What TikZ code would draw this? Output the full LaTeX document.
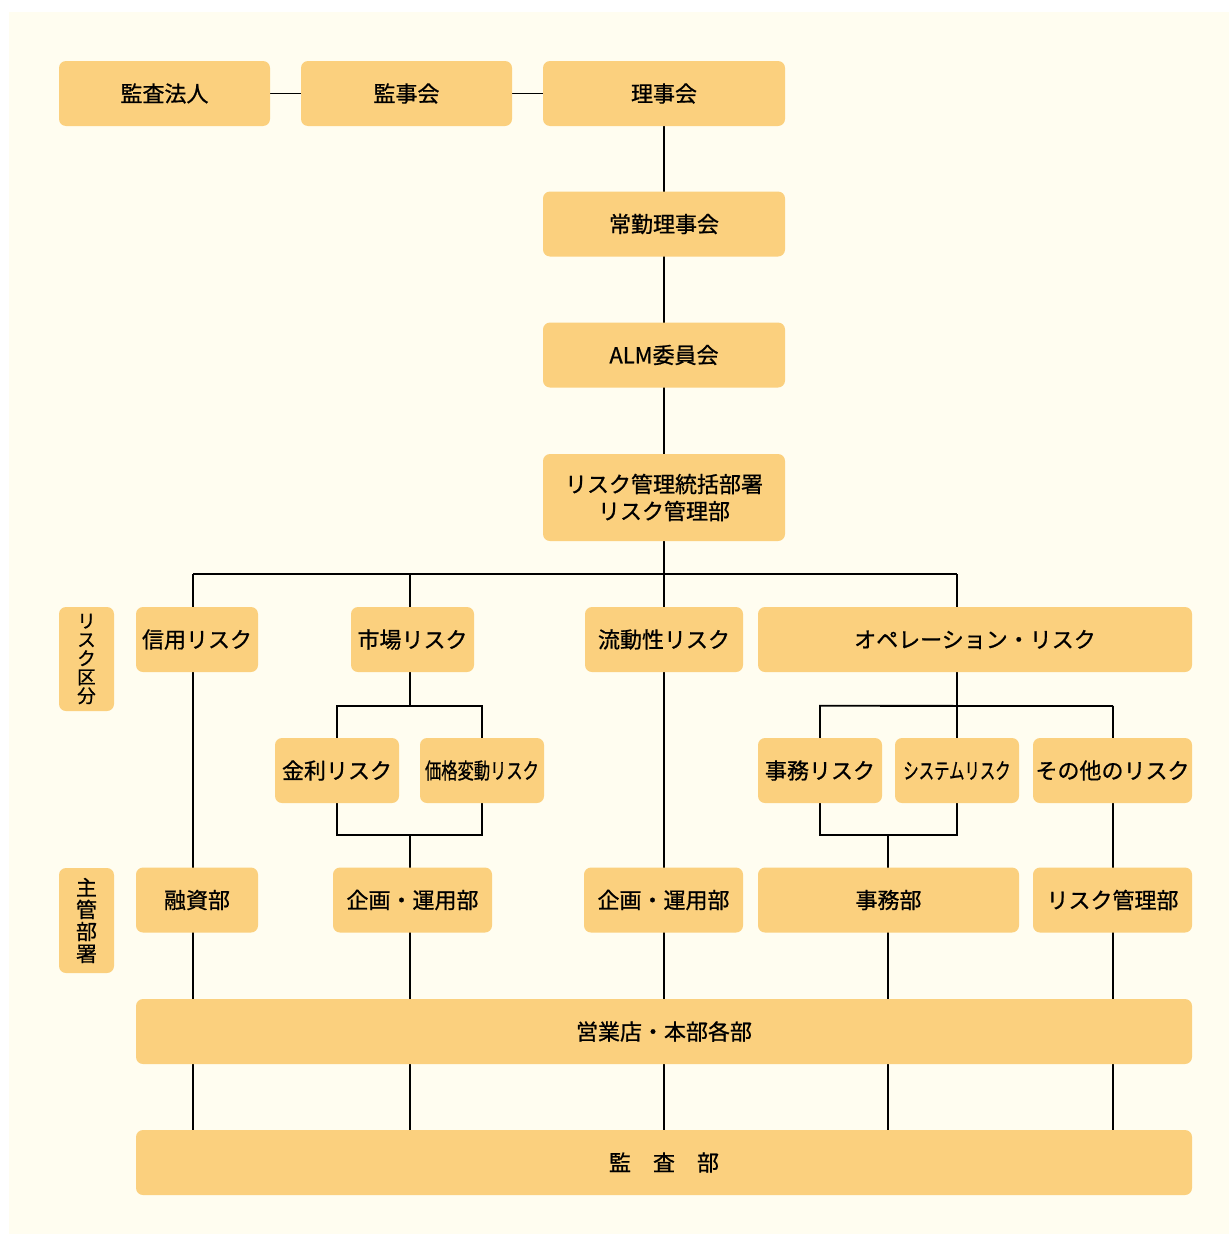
\documentclass[tikz,border=0pt]{standalone}
\usepackage{fontspec}
\setmainfont{Noto Sans CJK JP}[FakeBold=0.8, AutoFakeBold=0.8]
\usepackage{graphicx}
\usetikzlibrary{positioning, backgrounds}
\definecolor{boxfill}{HTML}{FBD07E}
\definecolor{paper}{HTML}{FFFDF0}

\begin{document}
\begin{tikzpicture}[
            x=1pt, y=-1pt,
            box/.style={fill=boxfill, rounded corners=7pt, inner sep=0pt, align=center,
              font=\fontsize{22}{27}\selectfont\bfseries, minimum height=65pt},
            side/.style={box, minimum width=55pt, font=\fontsize{21}{22}\selectfont\bfseries},
            link/.style={line width=1.8pt}
          ]
        \useasboundingbox (0,0) rectangle (1229,1234);

        \node[box, minimum width=211pt] (kansahoujin) at (164.5,93.5) {監査法人};
        \node[box, minimum width=211pt] (kanjikai) at (406.5,93.5) {監事会};
        \node[box, minimum width=242pt] (rijikai) at (664,93.5) {理事会};
        \node[box, minimum width=242pt] (joukin) at (664,224) {常勤理事会};
        \node[box, minimum width=242pt] (alm) at (664,355) {ALM委員会};
        \node[box, minimum width=242pt, minimum height=87pt] (riskkanri) at (664,497.5) {リスク管理統括部署\\リスク管理部};

        \node[side, minimum height=104pt, font=\fontsize{18.5}{18.7}\selectfont\bfseries] (kubun) at (86.5,659) {リ\\ス\\ク\\区\\分};
        \node[box, minimum width=122pt] (shinyou) at (197,639.5) {信用リスク};
        \node[box, minimum width=123pt] (shijou) at (412.5,639.5) {市場リスク};
        \node[box, minimum width=158pt] (ryuudou) at (664,639.5) {流動性リスク};
        \node[box, minimum width=434pt] (opera) at (975,639.5) {オペレーション・リスク};

        \node[box, minimum width=124pt] (kinri) at (337,770.5) {金利リスク};
        \node[box, minimum width=124pt] (kakaku) at (482,770.5) {\scalebox{0.74}[1]{価格変動リスク}};
        \node[box, minimum width=124pt] (jimurisk) at (820,770.5) {事務リスク};
        \node[box, minimum width=124pt] (system) at (957,770.5) {\scalebox{0.70}[1]{システムリスク}};
        \node[box, minimum width=159pt] (sonota) at (1112.5,770.5) {その他のリスク};

        \node[side, minimum height=105pt] (shukan) at (86.5,920.5) {主\\管\\部\\署};
        \node[box, minimum width=122pt] (yuushi) at (197,900) {融資部};
        \node[box, minimum width=159pt] (kikaku) at (412.5,900) {企画・運用部};
        \node[box, minimum width=159pt] (kikakuB) at (663.5,900) {企画・運用部};
        \node[box, minimum width=261pt] (jimubu) at (888.5,900) {事務部};
        \node[box, minimum width=159pt] (riskbu) at (1112.5,900) {リスク管理部};

        \node[box, minimum width=1056pt] (eigyou) at (664,1031.5) {営業店・本部各部};
        \node[box, minimum width=1056pt] (kansabu) at (664,1162.5) {監\hspace{1em}査\hspace{1em}部};

        \begin{pgfonlayer}{background}
        \fill[white] (0,0) rectangle (1229,1234);
        \fill[paper] (9,12) rectangle (1229,1234);
        \coordinate (busA) at (193,574);
        \coordinate (busB) at (410,574);
        \coordinate (busC) at (957,574);
        \coordinate (mktlow) at (410,835);
        \coordinate (oplow) at (888,835);
        \coordinate (other) at (1113,706);
        \draw[link] (kansahoujin) -- (kanjikai) -- (rijikai);
        \draw[link] (rijikai) -- (kansabu);
        \draw[link] (busA) -- (busC);
        \draw[link] (busA) -- (busA |- kansabu.north);
        \draw[link] (busB) -- ++(0,132);
        \draw[link] (busC) -- (busC |- system.north);
        \draw[link] (kinri.north) -- ++(0,-32) -| (kakaku.north);
        \draw[link] (kinri.south) -- ++(0,32) -| (kakaku.south);
        \draw[link] (mktlow) -- (mktlow |- kansabu.north);
        \draw[link] (jimurisk.north) -- ++(0,-32) -- (other);
        \draw[link] (jimurisk.south) -- ++(0,32) -| (system.south);
        \draw[link] (oplow) -- (oplow |- kansabu.north);
        \draw[link] (other) -- (other |- kansabu.north);
        \end{pgfonlayer}

        \end{tikzpicture}
\end{document}
